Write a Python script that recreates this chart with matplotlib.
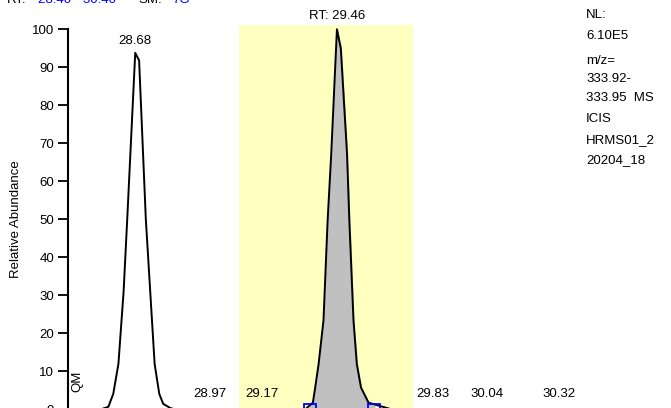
import numpy as np
import matplotlib
matplotlib.use("Agg")
import matplotlib.pyplot as plt

plt.rcParams['font.family'] = ['Liberation Sans', 'DejaVu Sans']

# retention time (min) / relative abundance (%)
rt_trace = [28.42, 28.545, 28.576, 28.595, 28.615, 28.635, 28.649, 28.68, 28.695,
            28.721, 28.738, 28.755, 28.773, 28.788, 28.815, 28.835,
            29.337, 29.367, 29.376, 29.389, 29.408, 29.424, 29.438, 29.46, 29.475,
            29.499, 29.508, 29.524, 29.537, 29.553, 29.582, 29.653, 29.673, 30.40]
ab_trace = [0, 0, 0.7, 4.1, 12, 31, 50, 93.8, 91.8,
            50, 31, 12, 4.1, 1.5, 0.4, 0,
            0, 1.8, 5.8, 11.9, 23.4, 49.7, 67.3, 100, 95,
            67.3, 49.7, 23.4, 11.9, 5.8, 1.8, 0.4, 0, 0]

peak_labels = ['28.68', '28.97', '29.17', '29.83', '30.04', '30.32']
peak_rts = [28.68, 28.97, 29.17, 29.83, 30.04, 30.32]
peak_label_y = [95.3, 2.4, 2.4, 2.4, 2.4, 2.4]

main_rt = 29.46
window = (29.082, 29.755)      # highlighted range
bounds = [29.357, 29.604]      # integration limits

info_lines = ['NL:', '6.10E5', 'm/z=', '333.92-', '333.95  MS', 'ICIS', 'HRMS01_2', '20204_18']
info_tops = [9, 30, 55, 73, 92, 113, 134, 154]  # px from top

fig = plt.figure(figsize=(6.71, 4.08), dpi=100)
H = 408.0
ax = fig.add_axes([68 / 671, (H - 409.5) / H, 512 / 671, 380.2 / H])
ax.set_xlim(28.42, 30.40)
ax.set_ylim(0, 100)

# yellow window (goes a bit above 100)
rect = plt.Rectangle((window[0], 0), window[1] - window[0], 101.2,
                     facecolor='#ffffc0', edgecolor='none', clip_on=False, zorder=0)
ax.add_patch(rect)

rt = np.array(rt_trace)
ab = np.array(ab_trace)

# grey area between the integration limits
xf = np.linspace(bounds[0], bounds[1], 300)
xf = np.unique(np.concatenate([xf, rt[(rt > bounds[0]) & (rt < bounds[1])]]))
ax.fill_between(xf, np.interp(xf, rt, ab), 0, color='#c0c0c0', zorder=1, clip_on=False)

ax.plot(rt, ab, color='black', lw=1.4, zorder=2, clip_on=False)

ax.plot(bounds, [0, 0], ls='none', marker='s', ms=9, mfc='none', mec='#0000ff',
        mew=1.3, zorder=3, clip_on=False)

for lab, x, y in zip(peak_labels, peak_rts, peak_label_y):
    ax.text(x, y, lab, ha='center', va='bottom', fontsize=9.5)
ax.text(main_rt, 102.0, 'RT: %.2f' % main_rt, ha='center', va='bottom', fontsize=9.5)

ax.text(28.455, 4.6, 'QM', rotation=90, ha='center', va='bottom', fontsize=9.5)

for s in ['top', 'right', 'bottom']:
    ax.spines[s].set_visible(False)
ax.spines['left'].set_linewidth(1.5)
ax.set_yticks(range(0, 101, 10))
ax.tick_params(axis='y', length=7, width=1.3, pad=3, labelsize=9.5)
ax.set_xticks([])
ax.set_ylabel('Relative Abundance', fontsize=9.5, labelpad=7)

# header, mostly cut off at the top edge
hy = 1 - 3 / H
fig.text(7 / 671, hy, 'RT:', color='black', fontsize=9.5, va='baseline')
fig.text(38 / 671, hy, '28.40 - 30.40', color='#0000ff', fontsize=9.5, va='baseline')
fig.text(138 / 671, hy, 'SM:', color='black', fontsize=9.5, va='baseline')
fig.text(172 / 671, hy, '7G', color='#0000ff', fontsize=9.5, va='baseline')

for line, top in zip(info_lines, info_tops):
    fig.text(586 / 671, 1 - top / H, line, fontsize=9.5, va='top', ha='left')

fig.savefig('out.png', dpi=100)
